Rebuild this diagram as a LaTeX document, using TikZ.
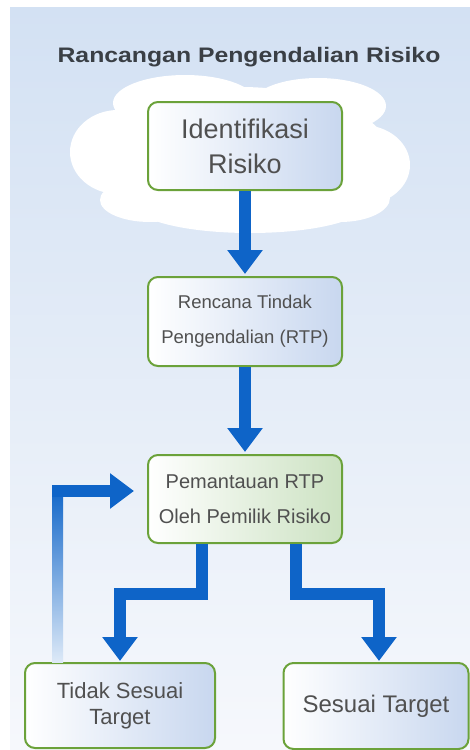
\documentclass[tikz,border=0pt]{standalone}
\usepackage{fontspec}
\usepackage{graphicx}
\setmainfont{Liberation Sans}
\usetikzlibrary{arrows.meta,calc}
\definecolor{arrowblue}{HTML}{0E64C8}
\definecolor{boxgreen}{HTML}{6BA23A}
\definecolor{boxblue}{HTML}{C8D7EF}
\definecolor{boxgreenfill}{HTML}{CCE2C2}
\definecolor{txt}{HTML}{505050}
\definecolor{titlec}{HTML}{3A3F45}
\definecolor{bgtop}{HTML}{D3E1F3}
\definecolor{bgbottom}{HTML}{F6F8FC}
\begin{document}
\begin{tikzpicture}[x=1pt,y=-1pt,
  box/.style={draw=boxgreen, line width=2pt, rounded corners=10pt, text=txt, align=center, inner sep=0pt},
  bluebox/.style={box, left color=white, middle color=white!80!boxblue, right color=boxblue},
  greenbox/.style={box, left color=white, middle color=white!80!boxgreenfill, right color=boxgreenfill},
  blockarrow/.style={draw=arrowblue, line width=11.5pt, line join=miter, -{Triangle[width=34pt,length=24pt]}},
  cloudpart/.style={fill=white}
]
\useasboundingbox (0,0) rectangle (470,750);
\fill[white] (0,0) rectangle (470,750);
\shade[top color=bgtop, bottom color=bgbottom] (10,7) rectangle (470,750);

% cloud
\fill[cloudpart] (240,155) ellipse [x radius=150pt, y radius=68pt];
\fill[cloudpart] (118,152) ellipse [x radius=48pt, y radius=42pt];
\fill[cloudpart] (185,103) ellipse [x radius=72pt, y radius=28pt];
\fill[cloudpart] (318,106) ellipse [x radius=68pt, y radius=28pt];
\fill[cloudpart] (362,165) ellipse [x radius=48pt, y radius=40pt];
\fill[cloudpart] (250,205) ellipse [x radius=115pt, y radius=28pt];
\fill[cloudpart] (150,200) ellipse [x radius=50pt, y radius=22pt];
\fill[cloudpart] (340,198) ellipse [x radius=50pt, y radius=24pt];

% title
\node[text=titlec, font=\fontsize{21}{21}\selectfont\bfseries, inner sep=0pt] (title) at (249,57)
  {\scalebox{1.18}[1]{Rancangan Pengendalian Risiko}};

% boxes
\node[bluebox, minimum width=194pt, minimum height=88pt, font=\fontsize{27}{35}\selectfont] (b1) at (245,146) {Identifikasi\\Risiko};
\node[bluebox, minimum width=194pt, minimum height=89pt, font=\fontsize{18.5}{35}\selectfont] (b2) at (245,321.5) {Rencana Tindak\\Pengendalian (RTP)};
\node[greenbox, minimum width=194pt, minimum height=88pt, font=\fontsize{20}{35}\selectfont] (b3) at (245,499) {Pemantauan RTP\\Oleh Pemilik Risiko};
\node[bluebox, minimum width=190pt, minimum height=85pt, font=\fontsize{22}{26}\selectfont] (b4) at (120,705.5) {Tidak Sesuai\\Target};
\node[bluebox, minimum width=185pt, minimum height=86pt, font=\fontsize{24}{28}\selectfont] (b5) at (376,706) {Sesuai Target};

% arrows
\draw[blockarrow, shorten >=2pt] (b1.south) -- (b2.north);
\draw[blockarrow, shorten >=2pt] (b2.south) -- (b3.north);
\draw[blockarrow, shorten >=1pt] ([xshift=-43pt]b3.south) -- ++(0,50) -| (b4.north);
\draw[blockarrow, shorten >=1pt] ([xshift=51pt]b3.south) -- ++(0,50) -| ([xshift=3pt]b5.north);

% feedback
\coordinate (fbcorner) at (52,491);
\coordinate (fbbottom) at (63,662);
\shade[top color=arrowblue, middle color=arrowblue!60!white, bottom color=arrowblue!14!white] (52,485) rectangle (fbbottom);
\draw[blockarrow, shorten >=13pt] (fbcorner) -- ([yshift=8pt]b3.west);
\end{tikzpicture}
\end{document}
